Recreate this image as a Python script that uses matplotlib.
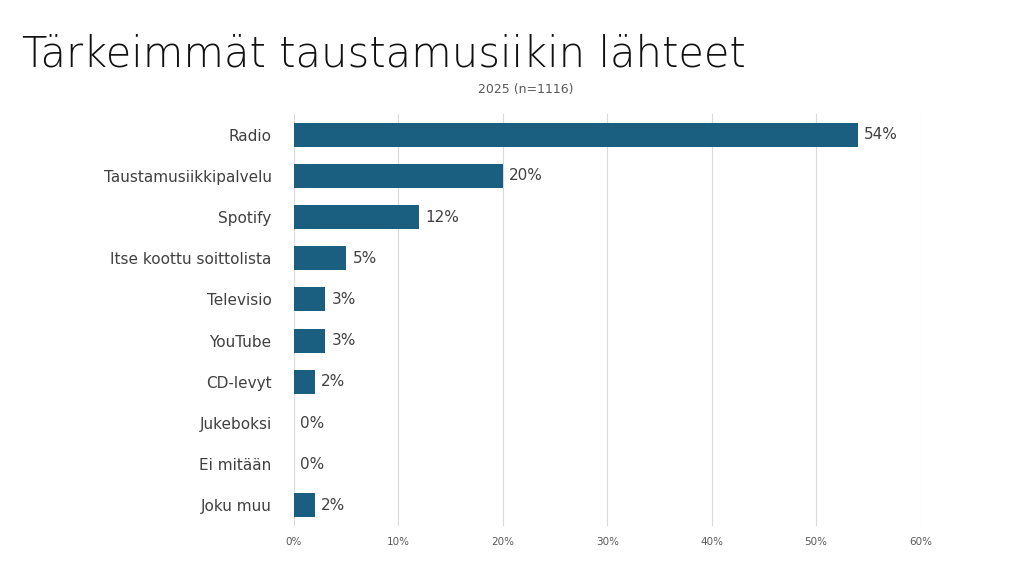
import matplotlib.pyplot as plt
from matplotlib.ticker import FuncFormatter

categories = ['Radio', 'Taustamusiikkipalvelu', 'Spotify', 'Itse koottu soittolista',
              'Televisio', 'YouTube', 'CD-levyt', 'Jukeboksi', 'Ei mitään', 'Joku muu']
values = [54, 20, 12, 5, 3, 3, 2, 0, 0, 2]
xticks = [0, 10, 20, 30, 40, 50, 60]

fig = plt.figure(figsize=(10.24, 5.73), dpi=100)
ax = fig.add_axes([0.287, 0.082, 0.612, 0.719])

ypos = list(range(len(categories)))
ax.barh(ypos, values, height=0.58, color='#1a5e80', zorder=3)
for y, v in zip(ypos, values):
    ax.text(v + 0.6, y, f'{v}%', va='center', ha='left', fontsize=11, color='#404040')

ax.set_ylim(len(categories) - 0.5, -0.5)
ax.set_xlim(0, 60)
ax.set_yticks(ypos)
ax.set_yticklabels(categories, fontsize=11, color='#404040')
ax.set_xticks(xticks)
ax.xaxis.set_major_formatter(FuncFormatter(lambda x, p: f'{x:.0f}%'))
ax.tick_params(axis='x', labelsize=7.5, colors='#595959', length=0, pad=8)
ax.tick_params(axis='y', length=0, pad=16)
ax.grid(axis='x', color='#d9d9d9', linewidth=0.8, zorder=0)
for s in ax.spines.values():
    s.set_visible(False)

fig.text(0.021, 0.905, 'Tärkeimmät taustamusiikin lähteet', fontsize=30,
         fontweight='light', color='#111111', va='center')
fig.text(0.513, 0.843, '2025 (n=1116)', fontsize=9, color='#595959', ha='center', va='center')

plt.savefig('out.png', dpi=100)
